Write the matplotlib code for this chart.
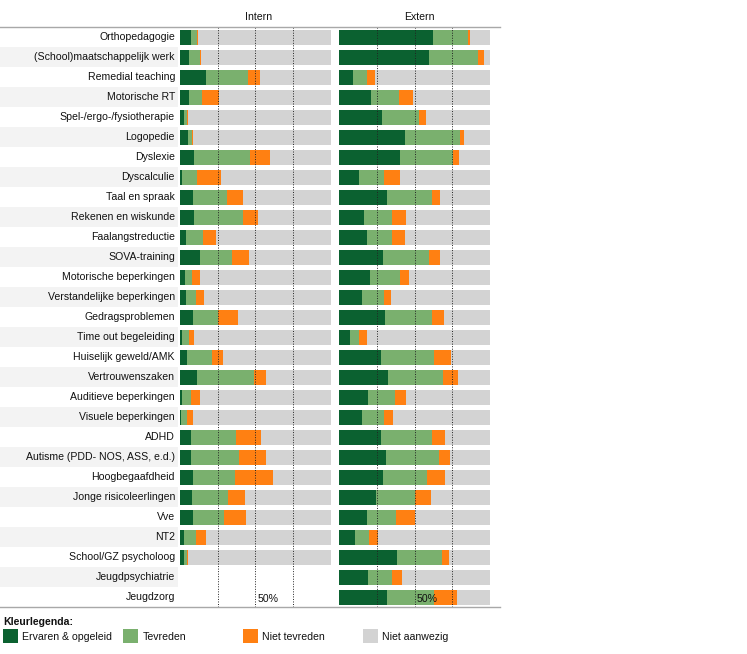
import matplotlib
matplotlib.use("Agg")
import matplotlib.pyplot as plt
from matplotlib.patches import Rectangle
import numpy as np

plt.rcParams['font.family'] = ['Liberation Sans', 'DejaVu Sans']

categories = [
    "Orthopedagogie", "(School)maatschappelijk werk", "Remedial teaching",
    "Motorische RT", "Spel-/ergo-/fysiotherapie", "Logopedie", "Dyslexie",
    "Dyscalculie", "Taal en spraak", "Rekenen en wiskunde", "Faalangstreductie",
    "SOVA-training", "Motorische beperkingen", "Verstandelijke beperkingen",
    "Gedragsproblemen", "Time out begeleiding", "Huiselijk geweld/AMK",
    "Vertrouwenszaken", "Auditieve beperkingen", "Visuele beperkingen", "ADHD",
    "Autisme (PDD- NOS, ASS, e.d.)", "Hoogbegaafdheid", "Jonge risicoleerlingen",
    "Vve", "NT2", "School/GZ psycholoog", "Jeugdpsychiatrie", "Jeugdzorg",
]

nan = np.nan
intern_ervaren = [7.3, 6.0, 17.2, 6.0, 2.6, 5.3, 9.3, 1.1, 8.6, 9.3, 4.0, 13.2, 3.3, 4.0,
                  8.6, 1.3, 4.6, 11.3, 1.3, 0.7, 7.3, 7.3, 8.6, 7.9, 8.6, 2.6, 2.6, nan, nan]
intern_tevreden = [3.7, 7.2, 27.8, 8.3, 2.3, 2.6, 37.1, 10.4, 22.7, 32.4, 11.5, 21.2, 4.4, 6.4,
                   16.6, 4.4, 16.6, 37.7, 6.0, 3.9, 29.8, 31.8, 27.8, 23.9, 20.5, 8.0, 2.0, nan, nan]
intern_niet_tevreden = [0.9, 0.9, 8.0, 11.5, 0.4, 0.9, 13.2, 15.7, 10.4, 10.2, 8.4, 11.3, 5.5, 5.5,
                        13.2, 3.6, 7.3, 8.0, 5.9, 4.0, 16.5, 17.9, 25.2, 11.2, 14.6, 6.6, 0.7, nan, nan]

extern_ervaren = [62.2, 59.5, 9.1, 21.0, 28.8, 43.6, 40.3, 13.1, 31.6, 16.4, 18.4, 29.0, 20.4, 15.0,
                  30.3, 7.1, 27.7, 32.3, 19.0, 15.0, 27.7, 31.0, 29.0, 24.3, 18.4, 10.4, 38.3, 19.0, 31.6]
extern_tevreden = [23.4, 32.3, 9.7, 18.8, 24.3, 36.5, 34.9, 16.5, 29.9, 18.6, 17.0, 30.5, 19.9, 14.6,
                   31.2, 6.2, 35.1, 36.5, 17.9, 14.6, 33.8, 35.2, 29.2, 25.9, 19.2, 9.3, 29.8, 16.0, 31.2]
extern_niet_tevreden = [1.1, 4.2, 4.9, 9.3, 4.4, 2.6, 4.2, 10.7, 5.3, 9.2, 8.2, 7.3, 6.0, 4.7,
                        8.0, 5.1, 11.3, 10.0, 7.3, 6.0, 8.6, 7.3, 11.9, 10.6, 12.6, 6.0, 4.7, 6.6, 15.3]

panel_titles = ["Intern", "Extern"]
legend_labels = ["Ervaren & opgeleid", "Tevreden", "Niet tevreden", "Niet aanwezig"]
grid_ticks = [25, 50, 75]

C_DARK = "#0b6130"
C_LIGHT = "#7ab06e"
C_ORANGE = "#ff8012"
C_GRAY = "#d3d3d3"
C_STRIPE = "#f3f3f3"
colors = [C_DARK, C_LIGHT, C_ORANGE, C_GRAY]

W, H = 747, 654
fig = plt.figure(figsize=(W / 100, H / 100), dpi=100)
FS = 7.6

TOP, BOT = 27, 607


def rect(x0, x1, y0, y1):
    return [x0 / W, 1 - y1 / H, (x1 - x0) / W, (y1 - y0) / H]


n = len(categories)
ypos = np.arange(n)

# label axes with stripes
axl = fig.add_axes(rect(0, 178, TOP, BOT))
axl.set_xlim(0, 1)
axl.set_ylim(n - 0.5, -0.5)
for i in range(n):
    if i % 2 == 1:
        axl.axhspan(i - 0.5, i + 0.5, color=C_STRIPE, lw=0)
    axl.text(0.983, i, categories[i], ha="right", va="center", fontsize=FS, color="#111111")
axl.axis("off")


def draw_panel(x0, x1, e, t, nt):
    ax = fig.add_axes(rect(x0, x1, TOP, BOT))
    ax.set_xlim(0, 100)
    ax.set_ylim(n - 0.5, -0.5)
    e = np.array(e, float)
    t = np.array(t, float)
    nt = np.array(nt, float)
    rest = 100 - e - t - nt
    left = np.zeros(n)
    for vals, c in zip([e, t, nt, rest], colors):
        ax.barh(ypos, vals, left=left, height=0.75, color=c, lw=0, zorder=2)
        left = left + np.nan_to_num(vals)
    for g in grid_ticks:
        ax.axvline(g, color="#222222", ls=(0, (1, 1.6)), lw=0.7, zorder=5)
    ax.text(51.5, n - 1 + 0.12, "50%", ha="left", va="center", fontsize=FS, color="#111111", zorder=6)
    ax.axis("off")
    return ax


draw_panel(180, 331, intern_ervaren, intern_tevreden, intern_niet_tevreden)
draw_panel(339, 490, extern_ervaren, extern_tevreden, extern_niet_tevreden)

# overlay axes in pixel coordinates
ov = fig.add_axes([0, 0, 1, 1], zorder=10)
ov.set_xlim(0, W)
ov.set_ylim(H, 0)
ov.axis("off")
ov.plot([0, 500], [TOP, TOP], color="#a8a8a8", lw=1.0)
ov.plot([0, 500], [BOT, BOT], color="#a8a8a8", lw=1.0)
ov.text(259, 16.5, panel_titles[0], ha="center", va="center", fontsize=FS, color="#111111")
ov.text(419, 16.5, panel_titles[1], ha="center", va="center", fontsize=FS, color="#111111")

ov.text(3, 622, "Kleurlegenda:", ha="left", va="center", fontsize=FS, fontweight="bold", color="#111111")
leg_x = [3, 123, 243, 363]
for x, lab, c in zip(leg_x, legend_labels, colors):
    ov.add_patch(Rectangle((x, 629), 14.5, 14, color=c, lw=0))
    ov.text(x + 19.5, 636.5, lab, ha="left", va="center", fontsize=FS, color="#111111")

fig.savefig("out.png", dpi=100)
